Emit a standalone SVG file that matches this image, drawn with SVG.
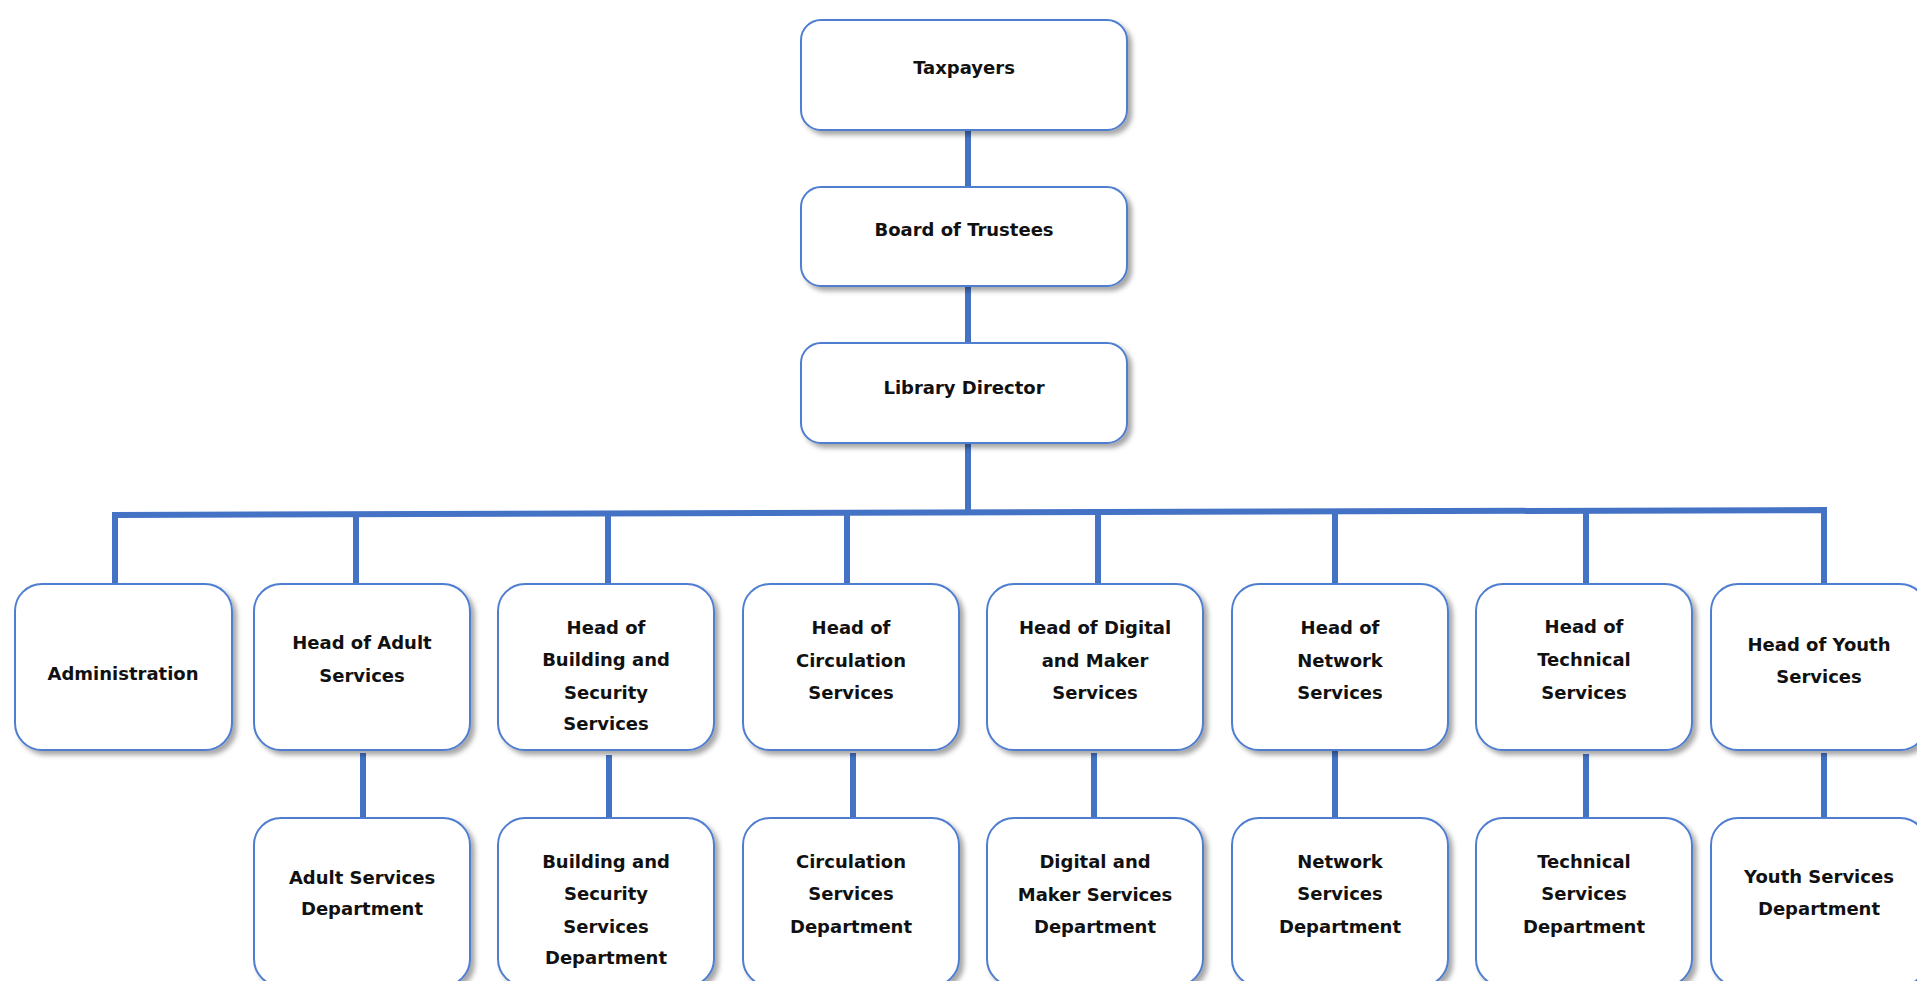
<svg xmlns="http://www.w3.org/2000/svg" width="1917" height="981" viewBox="0 0 1917 981">
<defs>
<filter id="sh" x="-10%" y="-10%" width="130%" height="130%">
<feDropShadow dx="4" dy="4" stdDeviation="2.5" flood-color="#000" flood-opacity="0.35"/>
</filter>
<style>
.box{fill:#fff;stroke:#4F7ED0;stroke-width:2;filter:url(#sh)}
.t{font-family:"DejaVu Sans",Verdana,sans-serif;font-weight:bold;font-size:18px;fill:#111;text-anchor:middle}
.c{stroke:#4472C4;stroke-width:6;fill:none}
</style>
</defs>
<rect width="1917" height="981" fill="#fff"/>
<g id="connectors">
<line class="c" x1="968" y1="131" x2="968" y2="187"/>
<line class="c" x1="968" y1="287" x2="968" y2="343"/>
<line class="c" x1="968" y1="443" x2="968" y2="513"/>
<polyline class="c" points="115,584 115,515 1824,510 1824,584"/>
<line class="c" x1="356" y1="515" x2="356" y2="584"/>
<line class="c" x1="608" y1="514" x2="608" y2="584"/>
<line class="c" x1="847" y1="513" x2="847" y2="584"/>
<line class="c" x1="1098" y1="512" x2="1098" y2="584"/>
<line class="c" x1="1335" y1="512" x2="1335" y2="584"/>
<line class="c" x1="1586" y1="511" x2="1586" y2="588"/>
<line class="c" x1="363" y1="753" x2="363" y2="818"/>
<line class="c" x1="609" y1="755" x2="609" y2="818"/>
<line class="c" x1="853" y1="753" x2="853" y2="818"/>
<line class="c" x1="1094" y1="753" x2="1094" y2="818"/>
<line class="c" x1="1335" y1="751" x2="1335" y2="818"/>
<line class="c" x1="1586" y1="754" x2="1586" y2="818"/>
<line class="c" x1="1824" y1="753" x2="1824" y2="818"/>
</g>
<g id="taxpayers"><rect class="box" x="801" y="20" width="326" height="110" rx="20"/><text class="t" x="964" y="74">Taxpayers</text></g>
<g id="board"><rect class="box" x="801" y="187" width="326" height="99" rx="20"/><text class="t" x="964" y="236">Board of Trustees</text></g>
<g id="director"><rect class="box" x="801" y="343" width="326" height="100" rx="20"/><text class="t" x="964" y="394">Library Director</text></g>

<g id="administration"><rect class="box" x="15" y="584" width="217" height="166" rx="27"/><text class="t" x="123" y="680">Administration</text></g>
<g id="head-adult"><rect class="box" x="254" y="584" width="216" height="166" rx="27"/><text class="t" x="362" y="649">Head of Adult</text><text class="t" x="362" y="682">Services</text></g>
<g id="head-building"><rect class="box" x="498" y="584" width="216" height="166" rx="27"/><text class="t" x="606" y="634">Head of</text><text class="t" x="606" y="666">Building and</text><text class="t" x="606" y="699">Security</text><text class="t" x="606" y="730">Services</text></g>
<g id="head-circulation"><rect class="box" x="743" y="584" width="216" height="166" rx="27"/><text class="t" x="851" y="634">Head of</text><text class="t" x="851" y="667">Circulation</text><text class="t" x="851" y="699">Services</text></g>
<g id="head-digital"><rect class="box" x="987" y="584" width="216" height="166" rx="27"/><text class="t" x="1095" y="634">Head of Digital</text><text class="t" x="1095" y="667">and Maker</text><text class="t" x="1095" y="699">Services</text></g>
<g id="head-network"><rect class="box" x="1232" y="584" width="216" height="166" rx="27"/><text class="t" x="1340" y="634">Head of</text><text class="t" x="1340" y="667">Network</text><text class="t" x="1340" y="699">Services</text></g>
<g id="head-technical"><rect class="box" x="1476" y="584" width="216" height="166" rx="27"/><text class="t" x="1584" y="633">Head of</text><text class="t" x="1584" y="666">Technical</text><text class="t" x="1584" y="699">Services</text></g>
<g id="head-youth"><rect class="box" x="1711" y="584" width="216" height="166" rx="27"/><text class="t" x="1819" y="651">Head of Youth</text><text class="t" x="1819" y="683">Services</text></g>

<g id="dept-adult"><rect class="box" x="254" y="818" width="216" height="168" rx="27"/><text class="t" x="362" y="884">Adult Services</text><text class="t" x="362" y="915">Department</text></g>
<g id="dept-building"><rect class="box" x="498" y="818" width="216" height="168" rx="27"/><text class="t" x="606" y="868">Building and</text><text class="t" x="606" y="900">Security</text><text class="t" x="606" y="933">Services</text><text class="t" x="606" y="964">Department</text></g>
<g id="dept-circulation"><rect class="box" x="743" y="818" width="216" height="168" rx="27"/><text class="t" x="851" y="868">Circulation</text><text class="t" x="851" y="900">Services</text><text class="t" x="851" y="933">Department</text></g>
<g id="dept-digital"><rect class="box" x="987" y="818" width="216" height="168" rx="27"/><text class="t" x="1095" y="868">Digital and</text><text class="t" x="1095" y="901">Maker Services</text><text class="t" x="1095" y="933">Department</text></g>
<g id="dept-network"><rect class="box" x="1232" y="818" width="216" height="168" rx="27"/><text class="t" x="1340" y="868">Network</text><text class="t" x="1340" y="900">Services</text><text class="t" x="1340" y="933">Department</text></g>
<g id="dept-technical"><rect class="box" x="1476" y="818" width="216" height="168" rx="27"/><text class="t" x="1584" y="868">Technical</text><text class="t" x="1584" y="900">Services</text><text class="t" x="1584" y="933">Department</text></g>
<g id="dept-youth"><rect class="box" x="1711" y="818" width="216" height="168" rx="27"/><text class="t" x="1819" y="883">Youth Services</text><text class="t" x="1819" y="915">Department</text></g>
</svg>
